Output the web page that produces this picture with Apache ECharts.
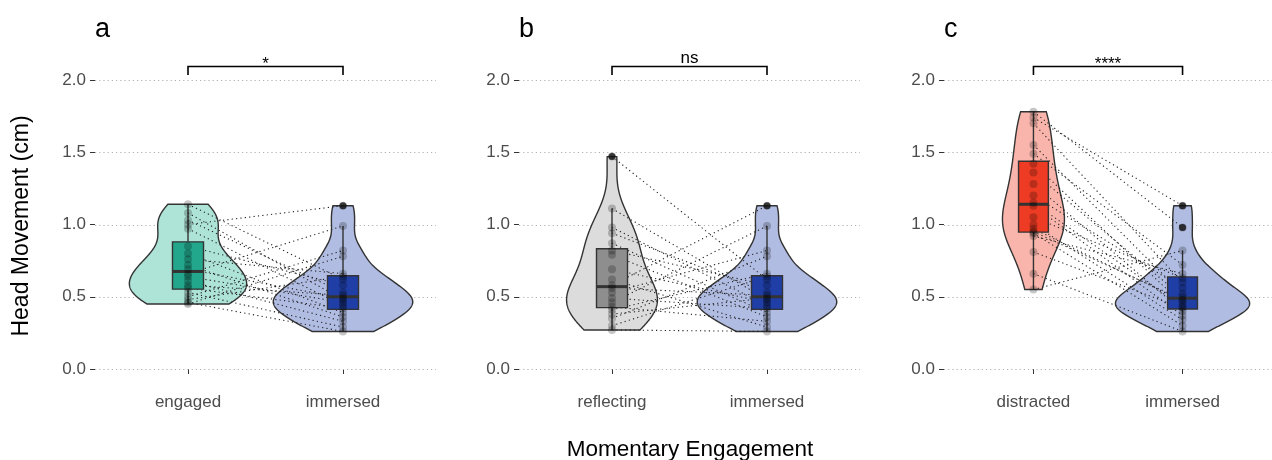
<!DOCTYPE html>
<html><head><meta charset="utf-8">
<script src="https://cdn.jsdelivr.net/npm/echarts@6/dist/echarts.min.js"></script>
<style>html,body{margin:0;padding:0;background:#fff}#c{width:1272px;height:460px}</style>
</head><body><div id="c"></div>
<script>
// ---------- data ----------
const panelLabels = ['a', 'b', 'c'];
const categoriesA = ['engaged', 'immersed'];
const categoriesB = ['reflecting', 'immersed'];
const categoriesC = ['distracted', 'immersed'];
const sigLabels = ['*', 'ns', '****'];
const yTicks = [0, 0.5, 1, 1.5, 2];
const xTitle = 'Momentary Engagement';
const yTitle = 'Head Movement (cm)';
// paired values (same participant order within each panel)
const engagedA   = [1.14, 1.08, 1.03, 1.00, 0.97, 0.85, 0.80, 0.76, 0.72, 0.69, 0.66, 0.64, 0.61, 0.58, 0.56, 0.53, 0.50, 0.48, 0.46, 0.45];
const immersedA  = [0.62, 0.48, 0.53, 1.13, 0.44, 0.58, 0.39, 0.66, 0.36, 0.49, 0.99, 0.46, 0.33, 0.51, 0.42, 0.29, 0.82, 0.64, 0.26, 0.78];
const reflectingB= [1.47, 1.11, 0.98, 0.94, 0.87, 0.82, 0.79, 0.69, 0.62, 0.58, 0.56, 0.53, 0.49, 0.46, 0.43, 0.41, 0.38, 0.35, 0.30, 0.27];
const immersedB  = [0.62, 0.48, 0.44, 0.53, 0.39, 0.58, 0.36, 0.46, 0.29, 1.13, 0.51, 0.82, 0.42, 0.99, 0.33, 0.66, 0.49, 0.78, 0.64, 0.26];
const distractedC= [1.78, 1.74, 1.70, 1.55, 1.49, 1.42, 1.36, 1.28, 1.20, 1.15, 1.13, 1.05, 1.00, 0.97, 0.95, 0.94, 0.92, 0.81, 0.66, 0.55];
const immersedC  = [0.98, 1.13, 0.60, 0.52, 0.72, 0.45, 0.50, 0.40, 0.56, 0.43, 0.37, 0.63, 0.34, 0.47, 0.48, 0.30, 0.66, 0.42, 0.26, 0.82];

// ---------- styling / layout ----------
const FONT = "'Liberation Sans', Arial, Helvetica, sans-serif";
const panels = [
  { cats: categoriesA, left: engagedA,    right: immersedA, gridLeft: 95,
    vFill: ['#AEE3D8', '#B1BCE2'], bFill: ['#22A78D', '#1F3EA6'] },
  { cats: categoriesB, left: reflectingB, right: immersedB, gridLeft: 519,
    vFill: ['#DCDCDC', '#B1BCE2'], bFill: ['#8E8E8E', '#1F3EA6'] },
  { cats: categoriesC, left: distractedC, right: immersedC, gridLeft: 944,
    vFill: ['#F9B5AC', '#B1BCE2'], bFill: ['#EE3B24', '#1F3EA6'] }
];

// ---------- stats ----------
function q7(s, p) { const h = (s.length - 1) * p, lo = Math.floor(h);
  return lo + 1 < s.length ? s[lo] + (h - lo) * (s[lo + 1] - s[lo]) : s[lo]; }
function boxStats(arr) {
  const s = arr.slice().sort((a, b) => a - b);
  const q1 = q7(s, 0.25), med = q7(s, 0.5), q3 = q7(s, 0.75), iqr = q3 - q1;
  const lf = q1 - 1.5 * iqr, uf = q3 + 1.5 * iqr;
  const inside = s.filter(v => v >= lf && v <= uf);
  return { q1, med, q3, lo: inside[0], hi: inside[inside.length - 1], out: s.filter(v => v < lf || v > uf) };
}
function bwNrd0(arr) {
  const n = arr.length, s = arr.slice().sort((a, b) => a - b);
  const m = arr.reduce((a, b) => a + b, 0) / n;
  const sd = Math.sqrt(arr.reduce((a, b) => a + (b - m) * (b - m), 0) / (n - 1));
  const iqr = q7(s, 0.75) - q7(s, 0.25);
  let lo = Math.min(sd, iqr / 1.34); if (!lo) lo = sd || 1;
  return 0.9 * lo * Math.pow(n, -0.2);
}
function kde(arr) {
  const bw = bwNrd0(arr), mn = Math.min(...arr), mx = Math.max(...arr), N = 256, out = [];
  for (let i = 0; i < N; i++) {
    const y = mn + (mx - mn) * i / (N - 1);
    let d = 0; for (const v of arr) { const z = (y - v) / bw; d += Math.exp(-0.5 * z * z); }
    out.push([y, d / (arr.length * bw * Math.sqrt(2 * Math.PI))]);
  }
  return out;
}

const series = [], grids = [], xAxes = [], yAxes = [];
panels.forEach((P, pi) => {
  grids.push({ left: P.gridLeft, top: 51.1, width: 341, height: 332.35, containLabel: false });
  xAxes.push({
    type: 'value', gridIndex: pi, min: 0.4, max: 2.6,
    axisLine: { show: false }, splitLine: { show: false },
    axisTick: { show: true, customValues: [1, 2], length: 5, lineStyle: { color: '#333', width: 1 } },
    axisLabel: { show: true, customValues: [1, 2], formatter: v => P.cats[Math.round(v) - 1],
      fontSize: 17, color: '#4D4D4D', fontFamily: FONT, margin: 10 }
  });
  yAxes.push({
    type: 'value', gridIndex: pi, min: -0.1, max: 2.2,
    axisLine: { show: false }, splitLine: { show: false },
    axisTick: { show: true, customValues: yTicks, length: 5, lineStyle: { color: '#333', width: 1 } },
    axisLabel: { show: true, customValues: yTicks, formatter: v => v.toFixed(1),
      fontSize: 17, color: '#4D4D4D', fontFamily: FONT, margin: 9 }
  });
  const groups = [P.left, P.right];
  const dens = groups.map(kde);
  const maxD = Math.max(...dens.map(d => Math.max(...d.map(r => r[1]))));
  const polys = dens.map((d, g) => {
    const pos = g + 1;
    const rightSide = d.map(r => [pos + 0.45 * r[1] / maxD, r[0]]);
    const leftSide = d.slice().reverse().map(r => [pos - 0.45 * r[1] / maxD, r[0]]);
    return rightSide.concat(leftSide);
  });
  const stats = groups.map(boxStats);
  const ax = { xAxisIndex: pi, yAxisIndex: pi };

  // grid lines
  series.push(Object.assign({
    type: 'custom', z: 1, silent: true, data: yTicks.map(v => [0.4, v]),
    renderItem: (params, api) => {
      const a = api.coord([0.4, api.value(1)]), b = api.coord([2.6, api.value(1)]);
      return { type: 'line', shape: { x1: a[0], y1: Math.round(a[1]) + 0.5, x2: b[0], y2: Math.round(b[1]) + 0.5 },
        style: { stroke: '#B0B0B0', lineWidth: 1, lineDash: [1.2, 3] } };
    }
  }, ax));
  // violins
  series.push(Object.assign({
    type: 'custom', z: 2, silent: true,
    data: [[1, Math.min(...P.left)], [2, Math.min(...P.right)]],
    renderItem: (params, api) => {
      const g = params.dataIndex;
      return { type: 'polygon', shape: { points: polys[g].map(p => api.coord(p)) },
        style: { fill: P.vFill[g], stroke: '#333', lineWidth: 1.4 } };
    }
  }, ax));
  // paired dotted lines
  series.push(Object.assign({
    type: 'custom', z: 3, silent: true,
    data: P.left.map((v, i) => [1, v, 2, P.right[i]]),
    encode: { x: [0, 2], y: [1, 3] },
    renderItem: (params, api) => {
      const a = api.coord([api.value(0), api.value(1)]), b = api.coord([api.value(2), api.value(3)]);
      return { type: 'line', shape: { x1: a[0], y1: a[1], x2: b[0], y2: b[1] },
        style: { stroke: '#222', lineWidth: 1.1, lineDash: [1.2, 3.2] } };
    }
  }, ax));
  // boxplots
  series.push(Object.assign({
    type: 'custom', z: 4, silent: true,
    data: stats.map((s, g) => [g + 1, s.lo, s.q1, s.med, s.q3, s.hi]),
    encode: { x: 0, y: [1, 2, 3, 4, 5] },
    renderItem: (params, api) => {
      const x = api.value(0), g = params.dataIndex;
      const lo = api.coord([x, api.value(1)]), q1 = api.coord([x, api.value(2)]), md = api.coord([x, api.value(3)]),
            q3 = api.coord([x, api.value(4)]), hi = api.coord([x, api.value(5)]);
      const xl = api.coord([x - 0.1, 0])[0], xr = api.coord([x + 0.1, 0])[0];
      const st = { stroke: '#333', lineWidth: 1.4 };
      return { type: 'group', children: [
        { type: 'line', shape: { x1: lo[0], y1: lo[1], x2: q1[0], y2: q1[1] }, style: st },
        { type: 'line', shape: { x1: q3[0], y1: q3[1], x2: hi[0], y2: hi[1] }, style: st },
        { type: 'rect', shape: { x: xl, y: q3[1], width: xr - xl, height: q1[1] - q3[1] },
          style: { fill: P.bFill[g], stroke: '#333', lineWidth: 1.4 } },
        { type: 'line', shape: { x1: xl, y1: md[1], x2: xr, y2: md[1] }, style: { stroke: '#333', lineWidth: 3 } }
      ] };
    }
  }, ax));
  // individual points
  series.push(Object.assign({
    type: 'scatter', z: 5, silent: true, symbolSize: 8,
    itemStyle: { color: 'rgba(0,0,0,0.28)' },
    data: P.left.map(v => [1, v]).concat(P.right.map(v => [2, v]))
  }, ax));
  // boxplot outliers
  series.push(Object.assign({
    type: 'scatter', z: 6, silent: true, symbolSize: 7,
    itemStyle: { color: '#111' },
    data: stats[0].out.map(v => [1, v]).concat(stats[1].out.map(v => [2, v]))
  }, ax));
  // significance bracket
  series.push(Object.assign({
    type: 'custom', z: 6, silent: true,
    data: [[1, 2.035, 2, 2.093]],
    encode: { x: [0, 2], y: [1, 3] },
    renderItem: (params, api) => {
      const a = api.coord([api.value(0), api.value(1)]), b = api.coord([api.value(0), api.value(3)]),
            c = api.coord([api.value(2), api.value(3)]), d = api.coord([api.value(2), api.value(1)]);
      const lab = sigLabels[pi];
      const isStar = lab.indexOf('*') >= 0;
      return { type: 'group', children: [
        { type: 'polyline', shape: { points: [a, b, c, d] }, style: { stroke: '#000', lineWidth: 1.6, fill: null } },
        { type: 'text', x: (b[0] + c[0]) / 2, y: b[1] - (isStar ? 2 : 8.5),
          style: { text: lab, fontSize: 17, fontFamily: FONT, fill: '#000', align: 'center', verticalAlign: 'middle' } }
      ] };
    }
  }, ax));
});

const graphics = [];
panels.forEach((P, pi) => {
  graphics.push({ type: 'text', left: P.gridLeft, top: 16,
    style: { text: panelLabels[pi], fontSize: 27, fontFamily: FONT, fill: '#000' } });
});
graphics.push({ type: 'text', x: 690, y: 450,
  style: { text: xTitle, fontSize: 22.5, fontFamily: FONT, fill: '#000', align: 'center', verticalAlign: 'middle',
    textAlign: 'center', textVerticalAlign: 'middle' } });
graphics.push({ type: 'text', x: 22, y: 226, rotation: Math.PI / 2,
  style: { text: yTitle, fontSize: 23, fontFamily: FONT, fill: '#000', align: 'center', verticalAlign: 'middle',
    textAlign: 'center', textVerticalAlign: 'middle' } });

const chart = echarts.init(document.getElementById('c'), null, { renderer: 'canvas' });
chart.setOption({
  backgroundColor: '#fff', animation: false,
  grid: grids, xAxis: xAxes, yAxis: yAxes, series: series, graphic: graphics
});
</script>
</body></html>
